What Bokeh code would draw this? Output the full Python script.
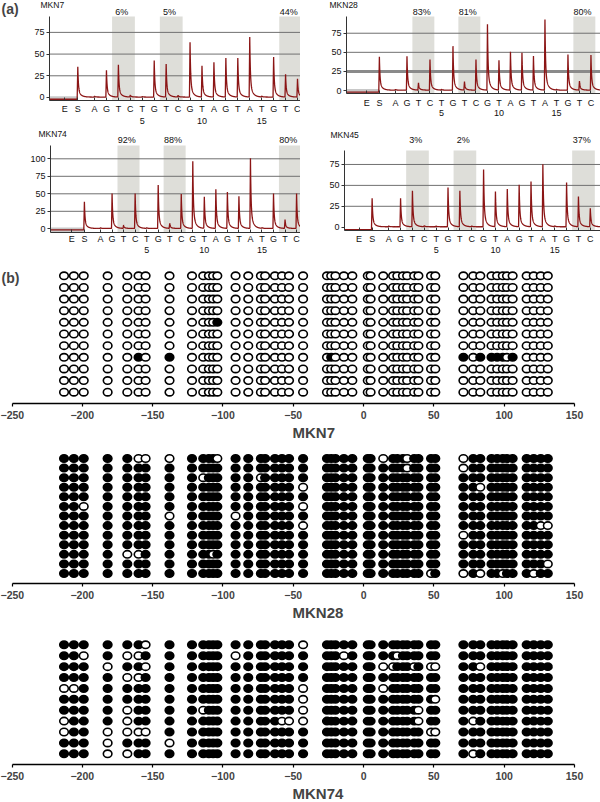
import numpy as np
from bokeh.plotting import figure
from bokeh.layouts import column, row
from bokeh.models import Range1d, LinearAxis, FixedTicker, Label, ColumnDataSource, Title
from bokeh.embed import file_html
from bokeh.resources import INLINE

FONT = "Liberation Sans"

# ---------------- (a) pyrosequencing data ----------------
dispensation = ["E", "S", "A", "G", "T", "C", "T", "G", "T", "C",
                "G", "T", "A", "G", "T", "A", "T", "G", "T", "C"]
number_ticks = [5, 10, 15]
cpg_pairs = [(3, 4), (7, 8), (17, 18)]          # T/C dispensations of the 3 CpGs

peaks_mkn7 = [0, 35, 1, 31, 37, 2.4, 0.6, 42, 38, 2.0, 63, 36, 40, 45, 45, 69, 1, 46, 26, 21]
peaks_mkn28 = [0, 43.6, 1, 44.5, 9.6, 40, 1, 57.6, 11, 40, 86, 39, 50, 48.8, 44.5, 92.5, 1, 46.7, 11.8, 45.8]
peaks_mkn74 = [0, 38, 1, 50, 4.8, 50, 1, 62, 7, 49, 96, 45, 55.7, 52, 46, 100, 1, 50, 12.5, 50]
peaks_mkn45 = [0, 34, 1, 34, 43, 1.3, 1, 47, 43, 0.9, 68.6, 42, 45, 50, 54, 74.6, 1, 53, 36, 22]

pct_mkn7 = ["6%", "5%", "44%"]
pct_mkn28 = ["83%", "81%", "80%"]
pct_mkn74 = ["92%", "88%", "80%"]
pct_mkn45 = ["3%", "2%", "37%"]

pre_mkn7, pre_mkn28, pre_mkn74, pre_mkn45 = -2.0, -2.0, -1.5, -2.8

yticks_mkn7 = [0, 25, 50, 75]
yticks_mkn28 = [0, 25, 50, 75]
yticks_mkn74 = [0, 25, 50, 75, 100]
yticks_mkn45 = [0, 25, 50, 75]

# ---------------- (b) bisulfite sequencing data ----------------
cpg_positions = [-213, -206, -199, -182, -168, -160, -155, -138,
                 -122, -114, -110, -107, -104, -91, -82, -73, -70, -63, -58, -53, -43,
                 -26, -23, -20, -14, -8, 3, 5, 14, 21, 24, 28, 31, 36, 39, 48, 51,
                 71, 78, 83, 91, 95, 99, 102, 106, 116, 121, 126, 131]
axis_ticks_b = [-250, -200, -150, -100, -50, 0, 50, 100, 150]

clones_mkn7 = 11
methylated_mkn7 = {5: [-104], 8: [-160, -138, -23, 71, 83, 91, 95, 99, 106]}
clones_mkn28 = 13
unmethylated_mkn28 = {1: [-160, -155, -138, -104, 14, 31, 71], 2: [31, 71], 3: [-114, -73],
                      4: [-43, 83], 6: [-199, -43], 7: [-138, -91], 8: [-43, 126, 131],
                      9: [71], 11: [-168, -160, -107], 12: [131], 13: [48, 71, 83, 99, 121]}
clones_mkn74 = 11
unmethylated_mkn74 = {1: [-155, -43], 2: [-199, -168, -160, -91, -14, 24],
                      3: [-182, -155, 14, 21, 36, 48, 51, 83], 4: [-168, -160],
                      5: [-213, -206, -43, 14], 6: [-43, 51], 7: [-168, -114, -43, 39],
                      8: [-213, -168, -58, -53, -43, 39, 78],
                      9: [-213, -182, -168, -160, -155, 48, 51], 10: [-182, -138],
                      11: [-182, -168, 78]}

# positions of dispensations on the x axis (E and S sit left of the numbered ones)
disp_pos = [-1.5, -0.4] + list(range(1, 19))


def style_fig(p):
    p.outline_line_color = None
    p.background_fill_color = "white"
    p.border_fill_color = "white"
    p.xgrid.visible = False
    p.ygrid.visible = False


def pyro_panel(name, heights, pcts, pre, yticks, g, box_top=None, thick25=False, tag=None):
    W, H, fl, ft, bl = g["W"], g["H"], g["fl"], g["ft"], g["bl"]
    ax0, ax1 = g["xr"]          # data x at the y axis / right frame edge
    ay0, ay1 = g["yr"]          # data y at the x axis / top of the y axis
    ppx = (W - fl) / (ax1 - ax0)
    ppy = (bl - ft) / (ay1 - ay0)
    x0 = ax0 - fl / ppx
    x1 = ax1
    y0 = ay0 - (H - bl) / ppy
    y1 = ay1 + ft / ppy
    p = figure(width=W, height=H, x_range=Range1d(x0, x1), y_range=Range1d(y0, y1),
               output_backend="svg", toolbar_location=None,
               min_border_left=0, min_border_right=0, min_border_top=0, min_border_bottom=0)
    style_fig(p)

    def dx(px):
        return x0 + px / ppx

    def dy(py):
        return y1 - py / ppy

    lefts = [a - 0.53 for a, b in cpg_pairs]
    rights = [b + 0.38 for a, b in cpg_pairs]
    p.quad(left=lefts, right=rights, bottom=ay0, top=ay1, fill_color="#deded9", line_color=None)
    if box_top is not None:
        p.quad(left=[ax0], right=[disp_pos[1]], bottom=[ay0], top=[box_top],
               fill_color="#c8c8c8", line_color=None)
    gt = [t for t in yticks if t > 0]
    p.segment(x0=[ax0] * len(gt), x1=[ax1] * len(gt), y0=gt, y1=gt,
              line_color="#707070", line_width=1)
    if thick25:
        p.segment(x0=[ax0], x1=[ax1], y0=[25], y1=[25], line_color="#8a8a8a", line_width=3)

    grid = np.linspace(ax0, ax1, 2400)
    dp = np.array(disp_pos, dtype=float)
    xs = np.sort(np.concatenate([grid, dp, dp - 0.05]))
    ys = np.where(xs < dp[1] - 0.05, pre, 0.5)
    for c, h in zip(dp, heights):
        d = xs - c
        shape = np.where(d < 0, np.clip((d + 0.05) / 0.05, 0, 1),
                         0.75 * np.exp(-d / 0.05) + 0.25 * np.exp(-d / 0.22))
        ys = ys + h * shape
    p.line(xs, ys, line_color="#8b1515", line_width=1.3)

    ax = p.xaxis[0]
    ax.fixed_location = ay0
    ax.axis_label = None
    ax.ticker = FixedTicker(ticks=disp_pos)
    ax.major_label_overrides = {pp: l for pp, l in zip(disp_pos, dispensation)}
    ax.bounds = (ax0, ax1)
    ax.major_tick_in = 3
    ax.major_tick_out = 0
    ax.minor_tick_line_color = None
    ax.major_label_standoff = g["lstand"]
    ax.major_label_text_font = FONT
    ax.major_label_text_font_size = "9px"
    ax.major_label_text_color = "#111111"
    ax.axis_line_color = "#333333"
    ax.major_tick_line_color = "#333333"

    nax = LinearAxis(ticker=FixedTicker(ticks=number_ticks), axis_line_color=None,
                     fixed_location=ay0, axis_label=None,
                     major_tick_line_color=None, minor_tick_line_color=None,
                     major_label_standoff=g["nstand"], major_label_text_font=FONT,
                     major_label_text_font_size="9px", major_label_text_color="#111111")
    p.add_layout(nax, "below")

    yax = p.yaxis[0]
    yax.fixed_location = ax0
    yax.axis_label = None
    yax.bounds = (ay0, ay1)
    yax.ticker = FixedTicker(ticks=yticks)
    yax.major_tick_in = 0
    yax.major_tick_out = 3
    yax.minor_tick_line_color = None
    yax.major_label_standoff = 2
    yax.major_label_text_font = FONT
    yax.major_label_text_font_size = "9px"
    yax.major_label_text_color = "#111111"
    yax.axis_line_color = "#333333"
    yax.major_tick_line_color = "#333333"

    tx, ty = g["title"]
    p.add_layout(Label(x=dx(tx), y=dy(ty), text=name, text_font=FONT,
                       text_font_size="8.5px", text_baseline="middle", text_align="left",
                       text_color="#111111"))
    for (l, r), t in zip(zip(lefts, rights), pcts):
        p.add_layout(Label(x=(l + r) / 2 - 0.15, y=dy(g["pct_y"]), text=t, text_font=FONT,
                           text_font_size="9px", text_baseline="middle", text_align="center",
                           text_color="#111111"))
    if tag:
        p.add_layout(Label(x=dx(1), y=dy(8), text=tag, text_font=FONT,
                           text_font_size="14px", text_font_style="bold",
                           text_baseline="middle", text_align="left"))
    return p


def meth_panel(name, nclones, default_meth, exceptions, H, fb, yr, tag=None):
    W = 600
    ppx = 562.5 / 400.0
    x0 = -250 - 11.5 / ppx
    x1 = x0 + W / ppx
    top_val, bot_val = yr
    fh = H - fb
    p = figure(width=W, height=H, x_range=Range1d(x0, x1), y_range=Range1d(bot_val, top_val),
               output_backend="svg", toolbar_location=None, y_axis_location=None,
               min_border_left=0, min_border_right=0, min_border_top=0, min_border_bottom=fb)
    style_fig(p)

    def dx(px):
        return x0 + px / ppx

    def dy(py):
        return top_val + py / fh * (bot_val - top_val)

    xs, ys, fills = [], [], []
    for r in range(1, nclones + 1):
        exc = exceptions.get(r, [])
        for c in cpg_positions:
            meth = default_meth != (c in exc)
            xs.append(c)
            ys.append(r)
            fills.append("black" if meth else "white")
    src = ColumnDataSource(dict(x=xs, y=ys, fill=fills))
    p.ellipse(x="x", y="y", width=8.6, height=7.4, width_units="screen",
              height_units="screen", fill_color="fill", line_color="black",
              line_width=1.6, source=src)

    ax = p.xaxis[0]
    ax.ticker = FixedTicker(ticks=axis_ticks_b)
    ax.bounds = (-250, 150)
    ax.major_label_overrides = {t: str(t).replace("-", "\u2212") for t in axis_ticks_b}
    ax.major_label_text_font = FONT
    ax.major_label_text_font_style = "bold"
    ax.major_label_text_font_size = "10.5px"
    ax.major_label_standoff = 4
    ax.axis_label_standoff = 0
    ax.major_tick_in = 0
    ax.major_tick_out = 3
    ax.minor_tick_line_color = None
    ax.axis_line_width = 1.5
    ax.major_tick_line_width = 1.2

    p.add_layout(Title(text=name, align="left", offset=292, standoff=0, text_font=FONT,
                       text_font_size="15px", text_font_style="bold"), "below")
    if tag:
        p.add_layout(Label(x=dx(1), y=dy(10), text=tag, text_font=FONT,
                           text_font_size="14px", text_font_style="bold",
                           text_baseline="middle", text_align="left"))
    return p


g7 = dict(W=300, H=128, fl=49, ft=16, bl=100, xr=(-2.77, 18.25), yr=(-3.46, 93.3),
          title=(40, 4), pct_y=11, lstand=3, nstand=11)
g28 = dict(W=300, H=128, fl=46, ft=16, bl=93.3, xr=(-3.26, 18.83), yr=(-4.3, 96.9),
           title=(29, 4), pct_y=11.7, lstand=4, nstand=10)
g74 = dict(W=300, H=139, fl=50, ft=17, bl=103.7, xr=(-3.34, 18.34), yr=(-4.86, 119.0),
           title=(38, 5), pct_y=11, lstand=2, nstand=9)
g45 = dict(W=300, H=139, fl=44, ft=22, bl=102, xr=(-2.73, 18.86), yr=(-3.95, 91.7),
           title=(30, 6), pct_y=11, lstand=3, nstand=10)

pA1 = pyro_panel("MKN7", peaks_mkn7, pct_mkn7, pre_mkn7, yticks_mkn7, g7, box_top=1.5, tag="(a)")
pA2 = pyro_panel("MKN28", peaks_mkn28, pct_mkn28, pre_mkn28, yticks_mkn28, g28, box_top=2.0,
                 thick25=True)
pA3 = pyro_panel("MKN74", peaks_mkn74, pct_mkn74, pre_mkn74, yticks_mkn74, g74, box_top=2.0)
pA4 = pyro_panel("MKN45", peaks_mkn45, pct_mkn45, pre_mkn45, yticks_mkn45, g45)

pB1 = meth_panel("MKN7", clones_mkn7, False, methylated_mkn7, 173, 37, (0.287, 11.97), tag="(b)")
pB2 = meth_panel("MKN28", clones_mkn28, True, unmethylated_mkn28, 180, 37, (-0.878, 14.04))
pB3 = meth_panel("MKN74", clones_mkn74, True, unmethylated_mkn74, 181, 33, (-1.232, 11.98))

layout = column(row(pA1, pA2), row(pA3, pA4), pB1, pB2, pB3)
open("out.html", "w").write(file_html(layout, INLINE))
